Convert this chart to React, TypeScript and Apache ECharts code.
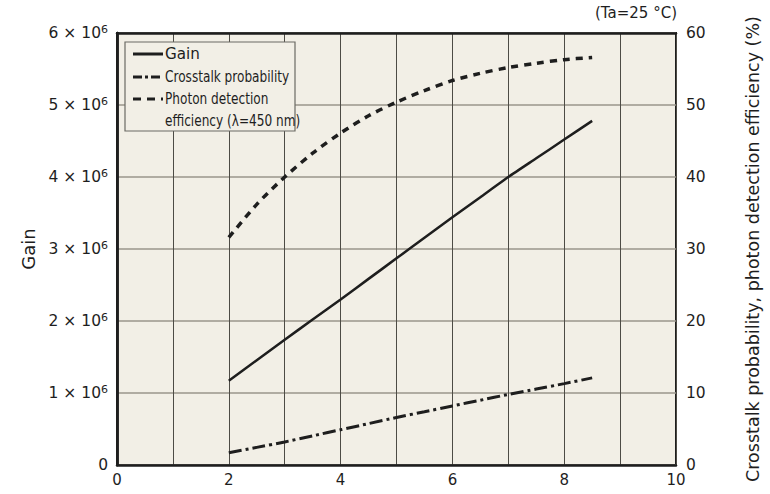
import React, { useEffect, useRef } from "react";
import * as echarts from "echarts";

// Overvoltage (V)
const overvoltage = [2, 2.5, 3, 3.5, 4, 4.5, 5, 5.5, 6, 6.5, 7, 7.5, 8, 8.5];
// Gain, in units of 10^6
const gainE6 = [1.17, 1.455, 1.74, 2.02, 2.3, 2.585, 2.87, 3.155, 3.44, 3.72, 4.0, 4.26, 4.52, 4.78];
// Crosstalk probability (%)
const crosstalk = [1.7, 2.45, 3.2, 4.05, 4.9, 5.75, 6.6, 7.4, 8.2, 9.0, 9.8, 10.55, 11.3, 12.1];
// Photon detection efficiency at 450 nm (%)
const pde = [31.6, 36.2, 40.0, 43.3, 46.1, 48.5, 50.4, 52.0, 53.4, 54.4, 55.2, 55.8, 56.3, 56.6];

const xTicks = [0, 2, 4, 6, 8, 10];
const gainTickMantissa = [0, 1, 2, 3, 4, 5, 6];

const FONT = "DejaVu Sans";
const FONT_NARROW = "DejaVu Sans Condensed";
const INK = "#1e1e1e";

export default function App() {
  const ref = useRef<HTMLDivElement>(null);

  useEffect(() => {
    if (!ref.current) return;
    const chart = echarts.init(ref.current, null, { renderer: "svg" });

    const pairs = (ys: number[], scale = 1) => overvoltage.map((x, i) => [x, ys[i] * scale]);

    // legend rows: sample line + label (narrow labels are squeezed horizontally)
    const legendRows = [
      { y: 54, text: "Gain", dash: null as number[] | null, font: FONT, size: 16, sx: 0.95 },
      { y: 77, text: "Crosstalk probability", dash: [9, 3, 3, 3], font: FONT_NARROW, size: 15.5, sx: 0.87 },
      { y: 99, text: "Photon detection", dash: [8, 6], font: FONT_NARROW, size: 15.5, sx: 0.87 },
      { y: 121, text: "efficiency (λ=450 nm)", dash: undefined, font: FONT_NARROW, size: 15.5, sx: 0.87 },
    ];

    chart.setOption({
      animation: false,
      backgroundColor: "#ffffff",
      textStyle: { fontFamily: FONT },
      grid: {
        left: 117,
        right: 91,
        top: 33,
        bottom: 29,
        show: true,
        backgroundColor: "#f2efe6",
        borderColor: INK,
        borderWidth: 2,
      },
      xAxis: [
        {
          type: "value",
          min: 0,
          max: 10,
          interval: 1,
          axisLine: { show: true, lineStyle: { color: INK, width: 2.5 } },
          axisTick: { show: false },
          axisLabel: {
            color: INK,
            fontSize: 15,
            margin: 7,
            formatter: (v: number) => (xTicks.includes(v) ? String(v) : ""),
          },
          splitLine: { show: true, lineStyle: { color: "#4d4b45", width: 1 } },
        },
        {
          type: "value",
          position: "top",
          min: 0,
          max: 10,
          axisLine: { show: true, onZero: false, lineStyle: { color: INK, width: 2.5 } },
          axisTick: { show: false },
          axisLabel: { show: false },
          splitLine: { show: false },
        },
      ],
      yAxis: [
        {
          type: "value",
          min: 0,
          max: 6e6,
          interval: 1e6,
          name: "Gain",
          nameLocation: "middle",
          nameGap: 76,
          nameRotate: 90,
          nameTextStyle: { color: INK, fontSize: 18, fontFamily: FONT },
          axisLine: { show: true, lineStyle: { color: INK, width: 2.5 } },
          axisTick: { show: false },
          axisLabel: {
            color: INK,
            fontSize: 15,
            margin: 9,
            formatter: (v: number) => {
              const m = Math.round(v / 1e6);
              if (!gainTickMantissa.includes(m)) return "";
              return m === 0 ? "{b|0}" : `{b|${m} × 10}{s|6}`;
            },
            rich: {
              b: { fontSize: 15.5, color: INK, fontFamily: FONT },
              s: { fontSize: 11, color: INK, fontFamily: FONT, padding: [0, 0, 8, 0] },
            },
          },
          splitLine: { show: true, lineStyle: { color: "#9a968b", width: 1.5 } },
        },
        {
          type: "value",
          min: 0,
          max: 60,
          interval: 10,
          position: "right",
          name: "Crosstalk probability, photon detection efficiency (%)",
          nameLocation: "middle",
          nameGap: 68,
          nameRotate: 90,
          nameTextStyle: { color: INK, fontSize: 17.5, fontFamily: FONT },
          axisLine: { show: true, lineStyle: { color: INK, width: 2.5 } },
          axisTick: { show: false },
          axisLabel: { color: INK, fontSize: 15.5, margin: 10 },
          splitLine: { show: false },
        },
      ],
      graphic: [
        {
          type: "text",
          x: 677,
          y: 13,
          style: {
            text: "(Ta=25 °C)",
            fill: INK,
            fontSize: 15,
            fontFamily: FONT,
            align: "right",
            verticalAlign: "middle",
          },
        },
        {
          type: "rect",
          shape: { x: 125, y: 42, width: 170, height: 89 },
          style: { fill: "#f2efe6", stroke: "#6b6a64", lineWidth: 1.2 },
          z: 10,
        },
        ...legendRows
          .filter((r) => r.dash !== undefined)
          .map((r) => ({
            type: "line",
            shape: { x1: 133, y1: r.y, x2: 163, y2: r.y },
            style: { stroke: INK, lineWidth: 3, lineDash: r.dash ?? undefined },
            z: 11,
          })),
        ...legendRows.map((r) => ({
          type: "text",
          x: 165,
          y: r.y,
          scaleX: r.sx,
          style: {
            text: r.text,
            fill: INK,
            fontSize: r.size,
            fontFamily: r.font,
            verticalAlign: "middle",
          },
          z: 11,
        })),
      ],
      series: [
        {
          name: "Gain",
          type: "line",
          yAxisIndex: 0,
          data: pairs(gainE6, 1e6),
          showSymbol: false,
          smooth: 0.2,
          lineStyle: { color: INK, width: 2.5, type: "solid" },
          z: 5,
        },
        {
          name: "Crosstalk probability",
          type: "line",
          yAxisIndex: 1,
          data: pairs(crosstalk),
          showSymbol: false,
          smooth: 0.2,
          lineStyle: { color: INK, width: 3, type: [13, 4, 3, 4] },
          z: 5,
        },
        {
          name: "Photon detection efficiency (λ=450 nm)",
          type: "line",
          yAxisIndex: 1,
          data: pairs(pde),
          showSymbol: false,
          smooth: 0.3,
          lineStyle: { color: INK, width: 3.5, type: [7, 6] },
          z: 5,
        },
      ],
    });

    return () => chart.dispose();
  }, []);

  return (
    <div
      ref={ref}
      style={{ position: "absolute", left: 0, top: 0, width: 770, height: 494 }}
    />
  );
}
